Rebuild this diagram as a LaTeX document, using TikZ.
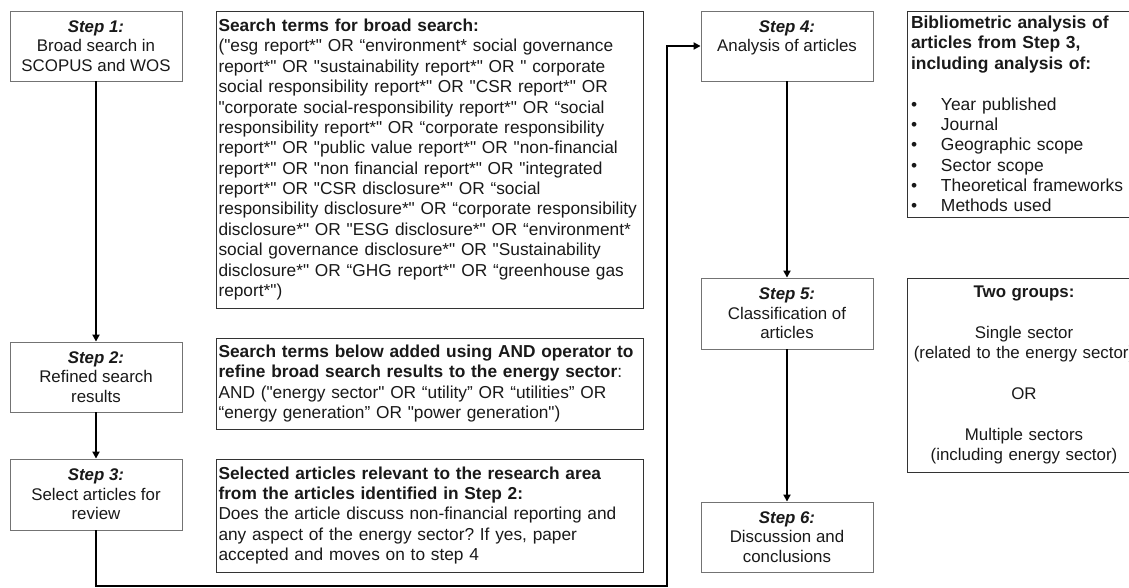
\documentclass[tikz,border=0pt]{standalone}
\usepackage{fontspec}
\setmainfont{Liberation Sans}[Ligatures=TeXOff]
\usetikzlibrary{arrows.meta}
\newcommand{\steplabel}[1]{\textbf{\textit{#1}}}
\newcommand{\bul}{\makebox[0.75cm][l]{•}}
\newcommand{\termfont}{\fontsize{12.3}{14.5}\selectfont\hyphenpenalty=10000\relax}
\frenchspacing

\begin{document}
\begin{tikzpicture}
[>={Triangle[length=5pt,width=5pt]},
stepbox/.style={rectangle,draw=black!55,line width=0.6pt,minimum width=4.3cm,minimum height=1.75cm,align=center,inner sep=0pt,font=\fontsize{12}{13.9}\selectfont,text=black!90},
termbox/.style={rectangle,draw=black!80,line width=0.6pt,text width=10.55cm,inner xsep=0.0625cm,inner ysep=0pt,align=left,font=\termfont,text=black!90},
infobox/.style={rectangle,draw=black!80,line width=0.6pt,text width=5.65cm,inner xsep=0.1cm,inner ysep=0pt,font=\fontsize{12.4}{14.5}\selectfont,text=black!90},
flow/.style={->,draw=black,line width=1.5pt}]

\useasboundingbox (0,0) rectangle (28.225,-14.7);
\clip (0,0) rectangle (28.225,-14.7);

\node at (2.4,-1.15)     [stepbox] (step1) {\steplabel{Step 1:}\\Broad search in\\SCOPUS and WOS};
\node at (2.4,-9.425)    [stepbox] (step2) {\steplabel{Step 2:}\\Refined search\\results};
\node at (2.4,-12.3625)  [stepbox,minimum height=1.775cm] (step3) {\steplabel{Step 3:}\\Select articles for\\review};
\node at (19.675,-1.15)  [stepbox] (step4) {\steplabel{Step 4:}\\Analysis of articles\\ \mbox{}};
\node at (19.675,-7.8375) [stepbox,minimum height=1.775cm] (step5) {\steplabel{Step 5:}\\Classification of\\articles};
\node at (19.675,-13.425) [stepbox] (step6) {\steplabel{Step 6:}\\Discussion and\\conclusions};

\node at (10.7375,-3.9875) [termbox,minimum height=7.425cm] (broad) {\textbf{Search terms for broad search:}\\
("esg report*" OR “environment* social governance\\
report*" OR "sustainability report*" OR " corporate\\
social responsibility report*" OR "CSR report*" OR\\
"corporate social-responsibility report*" OR “social\\
responsibility report*" OR “corporate responsibility\\
report*" OR "public value report*" OR "non-financial\\
report*" OR "non financial report*" OR "integrated\\
report*" OR "CSR disclosure*" OR “social\\
responsibility disclosure*" OR “corporate responsibility\\
disclosure*" OR "ESG disclosure*" OR “environment*\\
social governance disclosure*" OR "Sustainability\\
disclosure*" OR “GHG report*" OR “greenhouse gas\\
report*")};
\node at (10.7375,-9.5875) [termbox,minimum height=2.275cm] (refine) {\textbf{Search terms below added using AND operator to}\\
\textbf{refine broad search results to the energy sector}:\\
AND ("energy sector" OR “utility” OR “utilities” OR\\
“energy generation” OR "power generation")};
\node at (10.7375,-12.8875) [termbox,minimum height=2.825cm] (select) {\textbf{Selected articles relevant to the research area}\\
\textbf{from the articles identified in Step 2:}\\
Does the article discuss non-financial reporting and\\
any aspect of the energy sector? If yes, paper\\
accepted and moves on to step 4};

\node at (25.6,-2.85) [infobox,align=left,minimum height=5.15cm] (biblio) {\textbf{Bibliometric analysis of}\\
\textbf{articles from Step 3,}\\
\textbf{including analysis of:}\\[14.5pt]
\bul Year published\\
\bul Journal\\
\bul Geographic scope\\
\bul Sector scope\\
\bul Theoretical frameworks\\
\bul Methods used};
\node at (25.6,-9.375) [infobox,align=center,minimum height=4.85cm,font=\fontsize{12}{14.5}\selectfont] (groups) {\textbf{Two groups:}\\[14.5pt]
Single sector\\
(related to the energy sector)\\[14.5pt]
OR\\[14.5pt]
Multiple sectors\\
(including energy sector)};

\coordinate (loop) at (16.675,-14.65);
\draw [flow] (step1.south) -- (step2.north);
\draw [flow] (step2.south) -- (step3.north);
\draw [flow] (step3.south) |- (loop) |- (step4.west);
\draw [flow] (step4.south) -- (step5.north);
\draw [flow] (step5.south) -- (step6.north);
\end{tikzpicture}
\end{document}
